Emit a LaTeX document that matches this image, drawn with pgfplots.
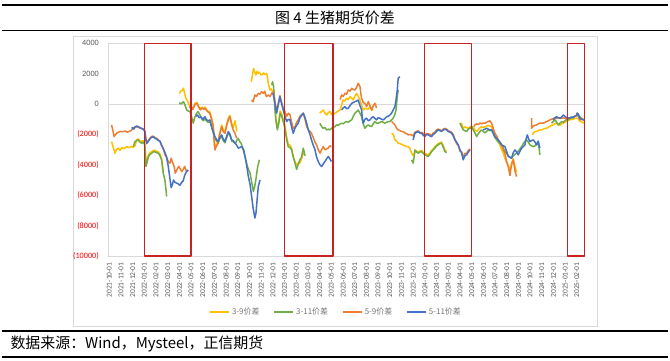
\documentclass[border=0pt]{standalone}
\usepackage{pgfplots}
\pgfplotsset{compat=1.18}
\usepackage{fontspec}
\setmainfont{Carlito}
\newfontfamily\cjk{Noto Sans CJK SC}
\definecolor{cy}{RGB}{255,192,0}
\definecolor{cg}{RGB}{112,173,71}
\definecolor{co}{RGB}{237,125,49}
\definecolor{cb}{RGB}{68,114,196}
\definecolor{axgray}{RGB}{217,217,217}
\definecolor{lblgray}{RGB}{89,89,89}
\definecolor{legray}{RGB}{118,118,118}
\definecolor{rectred}{RGB}{200,35,35}
\begin{document}
\begin{tikzpicture}
\path[use as bounding box] (0bp,0bp) rectangle (670bp,-361bp);
\draw[line width=1.3bp] (2bp,-5bp) -- (668bp,-5bp);
\node[font=\cjk\fontsize{15}{18}\selectfont] at (335bp,-17.5bp) {图 4 生猪期货价差};
\draw[line width=1.3bp] (2bp,-30.5bp) -- (668bp,-30.5bp);
\draw[axgray, line width=0.8bp] (73bp,-36bp) rectangle (597bp,-326bp);
\draw[line width=1.3bp] (2bp,-331bp) -- (668bp,-331bp);
\node[anchor=west, font=\cjk\fontsize{15}{18}\selectfont] at (7bp,-344bp) {数据来源：Wind，Mysteel，正信期货};
\draw[line width=1.3bp] (2bp,-357bp) -- (668bp,-357bp);
\begin{axis}[
  at={(108.3bp,-256bp)}, anchor=south west,
  scale only axis, width=476.7bp, height=212.7bp,
  xmin=-0.08, xmax=40.7, ymin=-10000, ymax=4000,
  axis line style={draw=none}, major tick length=0pt,
  clip=false, unbounded coords=jump,
  scaled y ticks=false, scaled x ticks=false,
  xtick={0,...,40},
  xticklabels={2021-10-01,2021-11-01,2021-12-01,2022-01-01,2022-02-01,2022-03-01,2022-04-01,2022-05-01,2022-06-01,2022-07-01,2022-08-01,2022-09-01,2022-10-01,2022-11-01,2022-12-01,2023-01-01,2023-02-01,2023-03-01,2023-04-01,2023-05-01,2023-06-01,2023-07-01,2023-08-01,2023-09-01,2023-10-01,2023-11-01,2023-12-01,2024-01-01,2024-02-01,2024-03-01,2024-04-01,2024-05-01,2024-06-01,2024-07-01,2024-08-01,2024-09-01,2024-10-01,2024-11-01,2024-12-01,2025-01-01,2025-02-01},
  xticklabel style={yshift=-3bp, rotate=90, anchor=east, font=\fontsize{7.5}{8}\selectfont, text=lblgray},
  ytick={-10000,-8000,-6000,-4000,-2000,0,2000,4000},
  yticklabels={\textcolor{red}{(10000)},\textcolor{red}{(8000)},\textcolor{red}{(6000)},\textcolor{red}{(4000)},\textcolor{red}{(2000)},0,2000,4000},
  yticklabel style={xshift=-6bp, font=\fontsize{8.2}{9}\selectfont, text=lblgray},
  legend columns=4,
  legend style={at={(0.478,-0.263)}, anchor=center, draw=none, fill=none, font=\cjk\fontsize{8}{9}\selectfont, text=legray, /tikz/every even column/.append style={column sep=12bp}},
  legend image code/.code={\draw[#1, line width=1.6bp] (0bp,0bp) -- (19bp,0bp);},
  every axis plot/.append style={line width=1.5bp, line join=round},
]
\draw[axgray, line width=0.75bp] (rel axis cs:0,0) -- (rel axis cs:1,0);
\draw[axgray, line width=0.75bp] (rel axis cs:0,0) -- (rel axis cs:0,1) -- (rel axis cs:1,1);
\draw[axgray, line width=0.75bp] (axis cs:-0.08,0) -- (axis cs:40.7,0);
\pgfplotsinvokeforeach{0,...,40}{\draw[axgray, line width=0.75bp] (axis cs:#1,0) ++(0,-2bp) -- ++(0,4bp);}
% 3-9
\addplot[cy] coordinates {
(0.2,-2470) (0.32,-2800) (0.49,-3230) (0.62,-3000) (0.77,-2900) (0.92,-3050) (1.09,-2850) (1.26,-2950) (1.49,-2800) (1.69,-2880) (1.86,-2780) (2.03,-2850) (2.2,-2750) (2.35,-2350) (2.48,-2300) (2.62,-2400) (2.77,-2450) (2.91,-2400) (3.05,-2600) (3.14,-3900) (3.25,-3650) (3.35,-3350) (3.5,-3200) (3.63,-3130) (3.77,-3050) (3.9,-3050) (4.05,-3100) (4.2,-3150) (4.34,-3300) (4.48,-3600) (4.62,-4400) (4.7,nan)
(6.0,700) (6.1,850) (6.25,900) (6.35,1050) (6.45,700) (6.55,400) (6.7,200) (6.85,-100) (7.0,-250) (7.15,-300) (7.35,50) (7.5,100) (7.65,-150) (7.8,-300) (7.95,-200) (8.1,-300) (8.2,-200) (8.35,-400) (8.5,-500) (8.6,-500) (8.75,-900) (8.9,-1400) (8.97,-2200) (9.04,-2900) (9.15,-2700) (9.32,-2450) (9.45,-1900) (9.62,-1380) (9.75,-1700) (9.9,-1800) (10.05,-1300) (10.2,-900) (10.33,-750) (10.45,-1200) (10.6,-1550) (10.7,-1260) (10.77,-1100) (10.85,-1500) (10.9,-1800) (11,nan)
(12.15,1470) (12.25,1900) (12.35,2350) (12.45,2100) (12.55,1910) (12.65,2150) (12.75,2020) (12.85,2100) (12.95,1950) (13.05,1910) (13.2,2050) (13.3,1950) (13.46,2020) (13.55,1700) (13.6,1370) (13.75,930) (13.85,1000) (14.0,750) (14.1,900) (14.17,0) (14.25,-900) (14.38,-1550) (14.5,-1150) (14.62,-450) (14.75,-650) (14.9,-1050) (15.03,-1450) (15.17,-2150) (15.31,-2650) (15.45,-2700) (15.6,-2900) (15.75,-3500) (15.9,-3800) (16.03,-4000) (16.15,-3900) (16.3,-3890) (16.45,-3600) (16.6,-3230) (16.7,-3300) (16.8,nan)
(18.0,-600) (18.15,-500) (18.3,-390) (18.45,-600) (18.6,-720) (18.75,-550) (18.88,-500) (19.05,-700) (19.2,-650) (19.35,-600) (19.5,-500) (19.6,-450) (19.73,-390) (19.87,-100) (20.0,270) (20.15,200) (20.3,380) (20.45,300) (20.6,490) (20.73,400) (20.87,270) (21.0,500) (21.16,710) (21.3,500) (21.45,270) (21.6,-100) (21.73,-390) (21.87,-300) (22.0,-280) (22.15,-350) (22.3,-170) (22.45,-300) (22.58,-390) (22.7,nan)
(24.16,-1920) (24.3,-2000) (24.44,-2360) (24.59,-2450) (24.72,-2580) (24.87,-2600) (25.0,-2650) (25.15,-2700) (25.3,-2750) (25.45,-2800) (25.58,-2800) (25.72,-2900) (25.87,-3230) (26.0,-3400) (26.15,-3150) (26.3,-3100) (26.43,-3150) (26.58,-3100) (26.72,-3050) (26.86,-3200) (27.0,-3250) (27.15,-3300) (27.29,-3350) (27.44,-3200) (27.58,-3050) (27.72,-2950) (27.86,-2800) (28.0,-2700) (28.14,-2600) (28.29,-2550) (28.43,-2500) (28.58,-2750) (28.72,-3050) (28.86,-3100) (29,nan)
(30.0,-1260) (30.15,-1300) (30.28,-1590) (30.43,-1500) (30.57,-1550) (30.72,-1600) (30.86,-1500) (31.0,-1450) (31.14,-1550) (31.28,-1700) (31.43,-1800) (31.57,-1700) (31.72,-1550) (31.86,-1500) (32.0,-1550) (32.14,-1500) (32.28,-1450) (32.42,-1400) (32.57,-1450) (32.71,-1500) (32.85,-1800) (32.99,-2100) (33.14,-2250) (33.28,-2450) (33.42,-2700) (33.57,-3000) (33.71,-3230) (33.85,-3560) (33.99,-3800) (34.13,-4000) (34.28,-4400) (34.42,-3900) (34.56,-3600) (34.71,-4100) (34.85,-4500) (35,nan)
(36.2,-2030) (36.27,-1900) (36.42,-1810) (36.56,-1800) (36.7,-1750) (36.84,-1700) (36.99,-1700) (37.13,-1650) (37.27,-1600) (37.42,-1590) (37.56,-1500) (37.7,-1480) (37.84,-1400) (37.98,-1370) (38.13,-1300) (38.27,-1250) (38.41,-1350) (38.56,-1400) (38.7,-1300) (38.84,-1260) (38.98,-1200) (39.13,-1100) (39.26,-1050) (39.41,-1040) (39.55,-1000) (39.69,-1000) (39.84,-950) (39.98,-930) (40.12,-950) (40.26,-1150) (40.41,-1150) (40.61,-1260)
};
\addlegendentry{3-9价差}
% 3-11
\addplot[cg] coordinates {
(2.06,-2800) (2.2,-2470) (2.35,-2400) (2.48,-2360) (2.62,-2500) (2.77,-2580) (2.91,-2500) (3.05,-2700) (3.14,-4110) (3.25,-3800) (3.35,-3460) (3.5,-3300) (3.63,-3230) (3.77,-3150) (3.9,-3130) (4.05,-3200) (4.2,-3230) (4.34,-3400) (4.48,-3670) (4.62,-4550) (4.76,-4990) (4.85,-5600) (4.91,-6080) (5,nan)
(6.0,100) (6.1,0) (6.2,50) (6.35,160) (6.5,-100) (6.62,-390) (6.75,-450) (6.9,-500) (7.0,-700) (7.1,-1000) (7.19,-1260) (7.3,-900) (7.48,-600) (7.6,-500) (7.75,-700) (7.9,-950) (8.05,-1100) (8.2,-950) (8.35,-1150) (8.5,-1200) (8.65,-1150) (8.8,-1600) (9.0,-2200) (9.15,-2400) (9.3,-2550) (9.45,-2300) (9.6,-2100) (9.75,-2400) (9.9,-2550) (10.05,-2200) (10.2,-1900) (10.35,-2100) (10.5,-2450) (10.65,-2500) (10.8,-2600) (10.9,-2400) (11.03,-2250) (11.17,-2470) (11.3,-2600) (11.46,-3020) (11.6,-3400) (11.75,-3890) (11.9,-4300) (12.05,-4550) (12.2,-5200) (12.33,-5760) (12.45,-5400) (12.54,-4990) (12.7,-4110) (12.85,-3670) (12.9,nan)
(13.9,1250) (13.97,1470) (14.05,1200) (14.1,710) (14.17,-300) (14.25,-1040) (14.38,-1700) (14.5,-1300) (14.62,-600) (14.75,-800) (14.9,-1200) (15.03,-1590) (15.17,-2300) (15.31,-2800) (15.45,-2850) (15.6,-3020) (15.75,-3500) (15.9,-3900) (16.03,-4300) (16.15,-4000) (16.31,-3670) (16.45,-3500) (16.6,-2900) (16.75,-3400) (16.8,nan)
(18.02,-1260) (18.15,-1450) (18.3,-1590) (18.45,-1550) (18.6,-1700) (18.75,-1650) (18.88,-1700) (19.02,-1600) (19.16,-1480) (19.3,-1500) (19.45,-1370) (19.6,-1400) (19.75,-1300) (19.88,-1260) (20.02,-1300) (20.16,-1200) (20.3,-1150) (20.45,-1200) (20.6,-1100) (20.74,-1040) (20.88,-800) (21.02,-600) (21.16,-500) (21.3,-390) (21.45,-600) (21.59,-830) (21.73,-1300) (21.87,-1590) (22.02,-1450) (22.16,-1370) (22.3,-1450) (22.45,-1480) (22.58,-1300) (22.73,-1150) (22.87,-1250) (23.01,-1260) (23.16,-1200) (23.3,-1150) (23.44,-1200) (23.58,-1260) (23.73,-1200) (23.87,-1150) (24.01,-1150) (24.15,-1050) (24.29,-930) (24.43,-700) (24.53,-390) (24.64,490) (24.72,930) (24.8,nan)
(25.87,-3670) (26.0,-3890) (26.08,-3500) (26.15,-3020) (26.3,-3150) (26.43,-3230) (26.58,-3150) (26.72,-3130) (26.86,-3250) (27.0,-3340) (27.15,-3400) (27.29,-3450) (27.44,-3300) (27.58,-3130) (27.72,-3000) (27.86,-2900) (28.0,-2750) (28.14,-2690) (28.29,-2600) (28.43,-2580) (28.58,-2850) (28.72,-3130) (28.86,-3200) (29,nan)
(30.0,-1260) (30.15,-1500) (30.28,-1700) (30.43,-1750) (30.57,-1810) (30.72,-1650) (30.86,-1590) (31.0,-1480) (31.14,-1700) (31.28,-1900) (31.43,-2140) (31.57,-1950) (31.72,-1800) (31.86,-1700) (32.0,-1800) (32.14,-1900) (32.28,-1800) (32.42,-1700) (32.57,-1750) (32.71,-1700) (32.85,-1950) (32.99,-2200) (33.14,-2360) (33.28,-2500) (33.42,-2600) (33.57,-2690) (33.71,-2900) (33.85,-3100) (33.99,-3230) (34.13,-3400) (34.28,-3500) (34.42,-3560) (34.56,-3400) (34.71,-3300) (34.85,-3230) (34.99,-3100) (35.14,-2950) (35.28,-2800) (35.42,-2600) (35.56,-2450) (35.71,-2360) (35.85,-2500) (35.99,-2690) (36.13,-2750) (36.27,-2800) (36.42,-2750) (36.56,-2650) (36.7,-2450) (36.77,-2900) (36.84,-3340) (36.9,nan)
(37.84,-1260) (37.98,-1150) (38.13,-1040) (38.27,-1200) (38.41,-1370) (38.56,-1250) (38.7,-1150) (38.84,-1200) (38.98,-1100) (39.13,-1000) (39.26,-1050) (39.41,-950) (39.55,-930) (39.69,-900) (39.84,-800) (39.98,-750) (40.03,-600) (40.12,-700) (40.26,-830) (40.41,-950) (40.61,-1040)
};
\addlegendentry{3-11价差}
% 5-9
\addplot[co] coordinates {
(0.2,-1370) (0.3,-1700) (0.42,-2140) (0.55,-2000) (0.65,-1900) (0.8,-1850) (0.95,-1800) (1.1,-1820) (1.25,-1810) (1.4,-1780) (1.55,-1850) (1.7,-1800) (1.85,-1750) (1.92,-1700) (2.0,-1600) (2.2,-1550) (2.35,-1500) (2.48,-1520) (2.62,-1580) (2.77,-1620) (2.91,-1650) (3.05,-1780) (3.12,-2200) (3.2,-2500) (3.3,-2450) (3.48,-2250) (3.6,-2150) (3.75,-2100) (3.91,-2200) (4.05,-2250) (4.2,-2350) (4.34,-2450) (4.48,-2750) (4.62,-2900) (4.77,-3340) (4.91,-3500) (5.05,-3800) (5.19,-3890) (5.3,-3560) (5.4,-3800) (5.55,-4100) (5.65,-4550) (5.8,-4300) (5.95,-4100) (6.1,-4300) (6.2,-4450) (6.33,-4300) (6.45,-4100) (6.6,-4400) (6.76,-4440) (6.8,nan)
(6.85,-250) (7.0,-150) (7.15,-350) (7.35,0) (7.5,50) (7.65,-200) (7.8,-390) (7.95,-250) (8.1,-350) (8.2,-280) (8.35,-450) (8.5,-550) (8.6,-600) (8.75,-1000) (8.9,-1480) (8.97,-2400) (9.04,-3020) (9.15,-2800) (9.32,-2580) (9.45,-2000) (9.62,-1480) (9.75,-1800) (9.9,-1920) (10.05,-1400) (10.2,-1000) (10.33,-830) (10.45,-1300) (10.6,-1700) (10.75,-1900) (10.9,-2250) (11,nan)
(12.18,270) (12.3,150) (12.46,600) (12.6,500) (12.75,710) (12.9,650) (13.03,815) (13.2,700) (13.3,850) (13.45,490) (13.6,600) (13.75,500) (13.9,710) (14.03,800) (14.17,150) (14.32,-450) (14.45,0) (14.6,550) (14.75,100) (14.88,-250) (15.03,-500) (15.18,-800) (15.32,-600) (15.46,-700) (15.6,-1200) (15.74,-1600) (15.9,-1480) (16.03,-1200) (16.17,-1040) (16.32,-800) (16.45,-700) (16.6,-600) (16.75,-1000) (16.89,-1480) (17.03,-1700) (17.17,-1800) (17.3,-1920) (17.45,-2200) (17.6,-2500) (17.74,-2690) (17.88,-3000) (18.03,-3230) (18.17,-3000) (18.3,-2800) (18.45,-3000) (18.6,-2950) (18.73,-2900) (18.87,-2750) (19.0,-2800) (19.1,nan)
(19.75,300) (19.88,600) (20.02,500) (20.16,710) (20.3,650) (20.44,930) (20.6,850) (20.74,1040) (20.88,950) (21.02,930) (21.16,1100) (21.3,1370) (21.45,1150) (21.52,700) (21.59,380) (21.73,100) (21.87,50) (22.02,-170) (22.16,160) (22.3,-100) (22.45,-400) (22.58,-100) (22.73,50) (22.87,-250) (23,nan)
(24.16,-1150) (24.3,-1260) (24.44,-1370) (24.59,-1600) (24.72,-1700) (24.87,-1750) (25.0,-1800) (25.15,-1810) (25.3,-1900) (25.45,-1950) (25.58,-2030) (25.72,-2000) (25.87,-2030) (26.0,-2100) (26.15,-1850) (26.3,-1800) (26.43,-1750) (26.58,-1900) (26.72,-1850) (26.86,-1950) (27.0,-2050) (27.15,-1950) (27.29,-1950) (27.44,-2000) (27.58,-2050) (27.72,-1900) (27.86,-1850) (28.0,-1700) (28.14,-1650) (28.29,-1700) (28.43,-1750) (28.58,-1650) (28.72,-1600) (28.86,-1650) (29.0,-1750) (29.15,-1800) (29.29,-1850) (29.43,-2000) (29.57,-2300) (29.71,-2600) (29.85,-2700) (30.0,-3100) (30.15,-3150) (30.28,-3500) (30.43,-3250) (30.57,-3250) (30.72,-3050) (30.86,-2950) (31,nan)
(31.2,-1500) (31.28,-1370) (31.43,-1300) (31.57,-1350) (31.72,-1250) (31.86,-1300) (32.0,-1250) (32.14,-1260) (32.28,-1200) (32.42,-1150) (32.57,-1100) (32.71,-1260) (32.85,-1600) (32.99,-1920) (33.14,-2100) (33.28,-2360) (33.42,-2500) (33.57,-2690) (33.71,-3000) (33.85,-3230) (33.99,-3800) (34.13,-4110) (34.28,-4700) (34.35,-4300) (34.42,-4000) (34.56,-3670) (34.63,-4000) (34.71,-4400) (34.78,-4600) (34.85,-4770) (35,nan)
(36.13,-930) (36.14,-1590) (36.27,-1450) (36.42,-1400) (36.56,-1370) (36.7,-1300) (36.84,-1260) (36.99,-1250) (37.13,-1260) (37.27,-1200) (37.42,-1150) (37.56,-1100) (37.7,-1040) (37.84,-1000) (37.98,-950) (38.13,-930) (38.27,-950) (38.41,-900) (38.56,-930) (38.7,-950) (38.84,-900) (38.98,-930) (39.13,-950) (39.26,-930) (39.41,-900) (39.55,-870) (39.69,-870) (39.84,-800) (39.98,-720) (40.12,-800) (40.26,-1040) (40.41,-1000) (40.61,-1040)
};
\addlegendentry{5-9价差}
% 5-11
\addplot[cb] coordinates {
(1.92,-1600) (2.0,-1550) (2.1,-1650) (2.2,-1500) (2.35,-1450) (2.48,-1480) (2.62,-1550) (2.77,-1600) (2.91,-1650) (3.05,-1800) (3.12,-2300) (3.2,-2600) (3.3,-2500) (3.48,-2300) (3.6,-2200) (3.75,-2150) (3.91,-2250) (4.05,-2300) (4.2,-2400) (4.34,-2450) (4.48,-2700) (4.62,-2950) (4.77,-3200) (4.91,-3500) (5.05,-4100) (5.19,-4900) (5.3,-5500) (5.4,-5300) (5.5,-5000) (5.62,-5150) (5.75,-5200) (5.9,-5250) (6.05,-5350) (6.2,-5150) (6.33,-5050) (6.45,-4700) (6.6,-4450) (6.76,-4330) (6.9,nan)
(7.4,-800) (7.55,-720) (7.7,-900) (7.85,-850) (8.0,-1000) (8.19,-830) (8.33,-1040) (8.5,-1100) (8.61,-1040) (8.75,-1500) (9.04,-2140) (9.15,-2300) (9.32,-2470) (9.45,-2200) (9.62,-2030) (9.75,-2300) (9.9,-2470) (10.05,-2100) (10.19,-1810) (10.33,-2000) (10.47,-2360) (10.6,-2400) (10.76,-2580) (10.9,-2700) (11.04,-2900) (11.2,-2850) (11.33,-2800) (11.5,-3000) (11.62,-3460) (11.75,-4000) (11.9,-4770) (12.05,-5300) (12.18,-6080) (12.3,-6800) (12.46,-7500) (12.55,-7200) (12.6,-6740) (12.75,-5430) (12.9,-4990) (13,nan)
(14.0,710) (14.1,400) (14.17,50) (14.25,-300) (14.32,-600) (14.45,-100) (14.6,490) (14.75,0) (14.88,-390) (15.03,-800) (15.18,-1150) (15.32,-1000) (15.46,-1040) (15.6,-1500) (15.74,-1920) (15.88,-1600) (16.03,-1400) (16.17,-1260) (16.32,-900) (16.45,-750) (16.6,-600) (16.75,-900) (16.89,-1260) (17.03,-1700) (17.17,-2000) (17.3,-2360) (17.45,-2700) (17.6,-3000) (17.74,-3500) (17.88,-3780) (18.03,-4000) (18.17,-4110) (18.3,-3950) (18.45,-3780) (18.6,-3600) (18.73,-3450) (18.87,-3600) (19.0,-3780) (19.1,nan)
(19.88,-390) (20.02,-250) (20.16,-170) (20.3,-300) (20.44,-280) (20.6,-100) (20.74,50) (20.88,100) (21.02,160) (21.16,200) (21.3,270) (21.45,-100) (21.59,-390) (21.66,-1000) (21.73,-1260) (21.87,-1000) (22.02,-930) (22.15,-1100) (22.3,-1040) (22.45,-900) (22.58,-830) (22.73,-950) (22.87,-1040) (23.0,-900) (23.16,-930) (23.3,-1000) (23.44,-1040) (23.58,-950) (23.73,-830) (23.87,-800) (24.01,-720) (24.15,-600) (24.29,-390) (24.43,-200) (24.53,270) (24.64,930) (24.72,1700) (24.8,1750) (24.87,1800) (25,nan)
(26.0,-2360) (26.08,-2100) (26.15,-1920) (26.3,-1850) (26.43,-1810) (26.58,-1900) (26.72,-1920) (26.86,-2050) (27.0,-2140) (27.15,-2000) (27.29,-2030) (27.44,-2100) (27.58,-2140) (27.72,-2000) (27.86,-1920) (28.0,-1800) (28.14,-1700) (28.29,-1750) (28.43,-1810) (28.58,-1700) (28.72,-1660) (28.86,-1700) (29.0,-1810) (29.15,-1850) (29.29,-1920) (29.43,-2100) (29.57,-2360) (29.71,-2500) (29.85,-2690) (30.0,-3000) (30.15,-3230) (30.28,-3670) (30.43,-3400) (30.57,-3340) (30.72,-3150) (30.86,-3020) (31,nan)
(32.0,-1700) (32.14,-1650) (32.28,-1590) (32.42,-1650) (32.57,-1700) (32.71,-1700) (32.85,-1900) (32.99,-2140) (33.14,-2250) (33.28,-2360) (33.42,-2500) (33.57,-2690) (33.71,-2750) (33.85,-2800) (33.99,-3100) (34.13,-3450) (34.28,-3500) (34.42,-3560) (34.56,-3200) (34.71,-3020) (34.85,-3150) (34.99,-3340) (35.14,-3100) (35.28,-2900) (35.42,-2800) (35.56,-2690) (35.66,-2300) (35.76,-2030) (35.88,-2300) (35.99,-2470) (36.13,-2400) (36.27,-2360) (36.42,-2500) (36.56,-2690) (36.7,-2450) (36.77,-2700) (36.84,-2900) (37,nan)
(37.98,-1040) (38.13,-900) (38.27,-830) (38.41,-900) (38.56,-930) (38.7,-850) (38.84,-720) (38.98,-800) (39.13,-900) (39.26,-930) (39.41,-900) (39.55,-850) (39.69,-870) (39.84,-800) (39.98,-750) (40.03,-600) (40.12,-650) (40.26,-930) (40.41,-1000) (40.61,-1040)
};
\addlegendentry{5-11价差}
% highlight boxes
\addplot[rectred, line width=1.2bp, forget plot] coordinates {(3,4000) (7,4000) (7,-10000) (3,-10000) (3,4000)};
\addplot[rectred, line width=1.2bp, forget plot] coordinates {(15,4000) (19.15,4000) (19.15,-10000) (15,-10000) (15,4000)};
\addplot[rectred, line width=1.2bp, forget plot] coordinates {(26.95,4000) (30.97,4000) (30.97,-10000) (26.95,-10000) (26.95,4000)};
\addplot[rectred, line width=1.2bp, forget plot] coordinates {(39.21,4000) (40.63,4000) (40.63,-10000) (39.21,-10000) (39.21,4000)};
\end{axis}
\end{tikzpicture}
\end{document}
